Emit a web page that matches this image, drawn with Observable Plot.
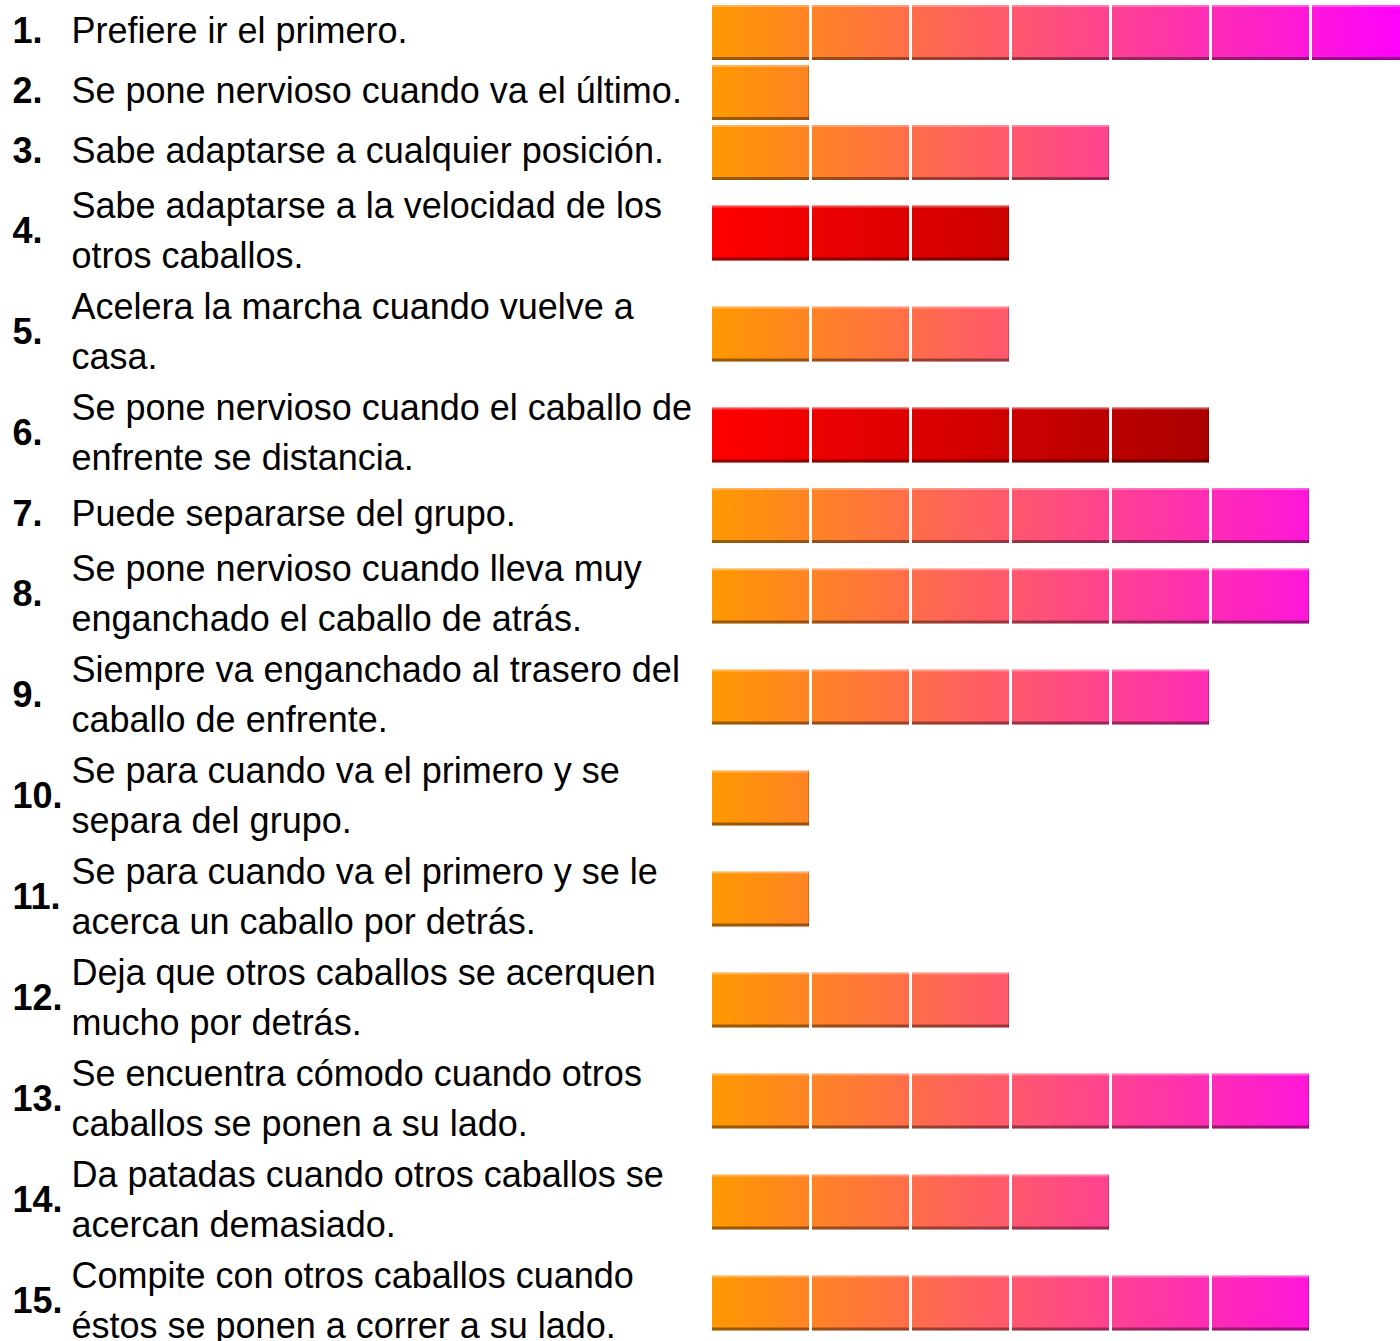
<!DOCTYPE html>
<html>
<head>
<meta charset="utf-8">
<script src="https://cdn.jsdelivr.net/npm/d3@7"></script>
<script src="https://cdn.jsdelivr.net/npm/@observablehq/plot@0.6"></script>
<style>
  html, body { margin: 0; padding: 0; background: #fff; }
  #chart svg { display: block; }
</style>
</head>
<body>
<div id="chart"></div>
<script>
const numeros = ["1.","2.","3.","4.","5.","6.","7.","8.","9.","10.","11.","12.","13.","14.","15."];
const etiquetas = [
  "Prefiere ir el primero.",
  "Se pone nervioso cuando va el último.",
  "Sabe adaptarse a cualquier posición.",
  "Sabe adaptarse a la velocidad de los\notros caballos.",
  "Acelera la marcha cuando vuelve a\ncasa.",
  "Se pone nervioso cuando el caballo de\nenfrente se distancia.",
  "Puede separarse del grupo.",
  "Se pone nervioso cuando lleva muy\nenganchado el caballo de atrás.",
  "Siempre va enganchado al trasero del\ncaballo de enfrente.",
  "Se para cuando va el primero y se\nsepara del grupo.",
  "Se para cuando va el primero y se le\nacerca un caballo por detrás.",
  "Deja que otros caballos se acerquen\nmucho por detrás.",
  "Se encuentra cómodo cuando otros\ncaballos se ponen a su lado.",
  "Da patadas cuando otros caballos se\nacercan demasiado.",
  "Compite con otros caballos cuando\néstos se ponen a correr a su lado."
];
const valores = [7, 1, 4, 3, 3, 5, 6, 6, 5, 1, 1, 3, 6, 4, 6];
const grupos = ["naranja","naranja","naranja","rojo","naranja","rojo","naranja","naranja","naranja","naranja","naranja","naranja","naranja","naranja","naranja"];

const W = 1400, H = 1341;
const FONT = "'Liberation Sans', Arial, Helvetica, sans-serif";

// row layout derived from the number of text lines of each label
let acum = 0;
const filas = etiquetas.map((e, i) => {
  const lineas = e.split("\n").length;
  const alto = lineas === 1 ? 60 : 101;
  const f = {i, num: numeros[i], etiqueta: e, valor: valores[i], grupo: grupos[i], centro: acum + alto / 2};
  acum += alto;
  return f;
});
const segmentos = filas.flatMap(f => d3.range(f.valor).map(k => ({...f, k, ultimo: k === f.valor - 1})));
const naranja = segmentos.filter(d => d.grupo === "naranja");
const rojo = segmentos.filter(d => d.grupo === "rojo");

const rectBase = {x1: "k", x2: d => d.k + 1, insetLeft: 1, insetRight: 2};

const plot = Plot.plot({
  width: W,
  height: H,
  margin: 0,
  style: {background: "#fff", fontFamily: FONT, overflow: "hidden"},
  x: {domain: [0, 7], range: [711, 1411], axis: null},
  y: {domain: [0, H], range: [0, H], axis: null},
  marks: [
    Plot.rect(naranja, {...rectBase, y1: d => d.centro - 25, y2: d => d.centro + 30, fill: "url(#gNaranja)"}),
    Plot.rect(rojo, {...rectBase, y1: d => d.centro - 25, y2: d => d.centro + 30, fill: "url(#gRojo)"}),
    // bevel: light top, dark bottom, dark right edge on the last segment
    Plot.rect(segmentos, {...rectBase, y1: d => d.centro - 25, y2: d => d.centro - 23, fill: "#fff", fillOpacity: 0.3}),
    Plot.rect(segmentos, {...rectBase, y1: d => d.centro + 27, y2: d => d.centro + 30, fill: "#000", fillOpacity: 0.4}),
    Plot.rect(segmentos.filter(d => d.ultimo), {x1: d => d.k + 0.975, x2: d => d.k + 1, insetRight: 2, y1: d => d.centro - 25, y2: d => d.centro + 30, fill: "#000", fillOpacity: 0.35}),
    Plot.text(filas, {text: "num", y: d => d.centro + 0.5, frameAnchor: "left", dx: 12, textAnchor: "start", fontWeight: "bold", fontSize: 36, fill: "#000"}),
    Plot.text(filas, {text: "etiqueta", y: d => d.centro + 0.5, frameAnchor: "left", dx: 71, dy: -4.5, textAnchor: "start", lineAnchor: "middle", lineHeight: 1.39, fontSize: 36, fill: "#000"})
  ]
});

const xs = plot.scale("x");
const x0 = xs.apply(0), x5 = xs.apply(5), x7 = xs.apply(7);
d3.select(plot).insert("defs", ":first-child").html(`
  <linearGradient id="gNaranja" gradientUnits="userSpaceOnUse" x1="${x0}" x2="${x7}" y1="0" y2="0">
    <stop offset="0" stop-color="#ff9900"/><stop offset="1" stop-color="#ff00ff"/>
  </linearGradient>
  <linearGradient id="gRojo" gradientUnits="userSpaceOnUse" x1="${x0}" x2="${x5}" y1="0" y2="0">
    <stop offset="0" stop-color="#ff0000"/><stop offset="1" stop-color="#aa0000"/>
  </linearGradient>`);

document.getElementById("chart").appendChild(plot);
</script>
</body>
</html>
